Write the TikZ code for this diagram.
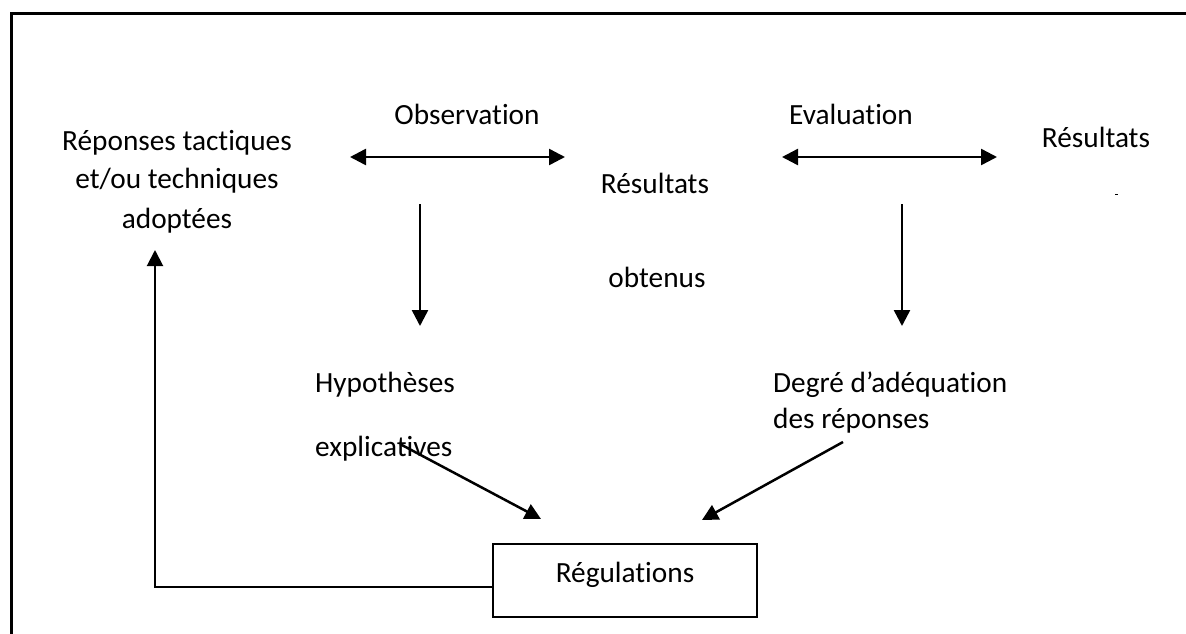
\documentclass[tikz,border=0pt]{standalone}
\usepackage{fontspec}
\setmainfont{Carlito}[RawFeature={-liga;-dlig}]
\usetikzlibrary{arrows.meta}
\begin{document}
\begin{tikzpicture}[x=1pt,y=-1pt,
  txt/.style={inner sep=0pt, anchor=base, font=\fontsize{29.3}{34}\selectfont},
  txtw/.style={txt, anchor=base west},
  arr/.style={line width=2.5pt, -{Triangle[length=16pt,width=16pt]}},
  darr/.style={line width=2.5pt, {Triangle[length=16pt,width=16pt]}-{Triangle[length=16pt,width=16pt]}},
  regbox/.style={draw, line width=2pt, minimum width=264pt, minimum height=73pt, inner sep=0pt,
    text height=14pt, text depth=10pt, font=\fontsize{29.3}{34}\selectfont}]
\useasboundingbox (0,0) rectangle (1186,633);
\clip (0,0) rectangle (1186,633);
% frame
\draw[line width=3pt] (1200,13) -- (11,13) -- (11,650);
% texts
\node[txt] (rep1) at (177,150) {Réponses tactiques};
\node[txt] (rep2) at (177,188) {et/ou techniques};
\node[txt] (rep3) at (177,228) {adoptées};
\node[txt] (obs) at (467,124) {Observation};
\node[txt] (eval) at (851,124) {Evaluation};
\node[txt] (res) at (1096,147) {Résultats};
\node[txt] (resob1) at (655,193) {Résultats};
\node[txt] (resob2) at (657,287) {obtenus};
\node[txtw] (hyp1) at (315,392) {Hypothèses};
\node[txtw] (hyp2) at (315,456) {explicatives};
\node[txtw] (deg1) at (773,392) {Degré d’adéquation};
\node[txtw] (deg2) at (773,428) {des réponses};
\node[regbox] (reg) at (625,580) {Régulations};
% coordinates for free arrow ends
\coordinate (da1) at (350,157);
\coordinate (da2) at (565,157);
\coordinate (db1) at (782,157);
\coordinate (db2) at (997,157);
\coordinate (v1a) at (420,204);
\coordinate (v1b) at (420,326);
\coordinate (v2a) at (902,204);
\coordinate (v2b) at (902,326);
\coordinate (l1) at (400,444);
\coordinate (l2) at (541,519);
\coordinate (r1) at (843,442);
\coordinate (r2) at (702,520);
\coordinate (fb) at (155,587);
\coordinate (fbtip) at (155,250);
\coordinate (dashA) at (1115,194);
\coordinate (dashB) at (1118,194);
% connectors
\draw[darr] (da1) -- (da2);
\draw[darr] (db1) -- (db2);
\draw[arr] (v1a) -- (v1b);
\draw[arr] (v2a) -- (v2b);
\draw[arr] (l1) -- (l2);
\draw[arr] (r1) -- (r2);
\draw[arr, line width=2pt] (reg.west |- fb) -- (fb) -- (fbtip);
\draw[line width=0.8pt] (dashA) -- (dashB);
\end{tikzpicture}
\end{document}
